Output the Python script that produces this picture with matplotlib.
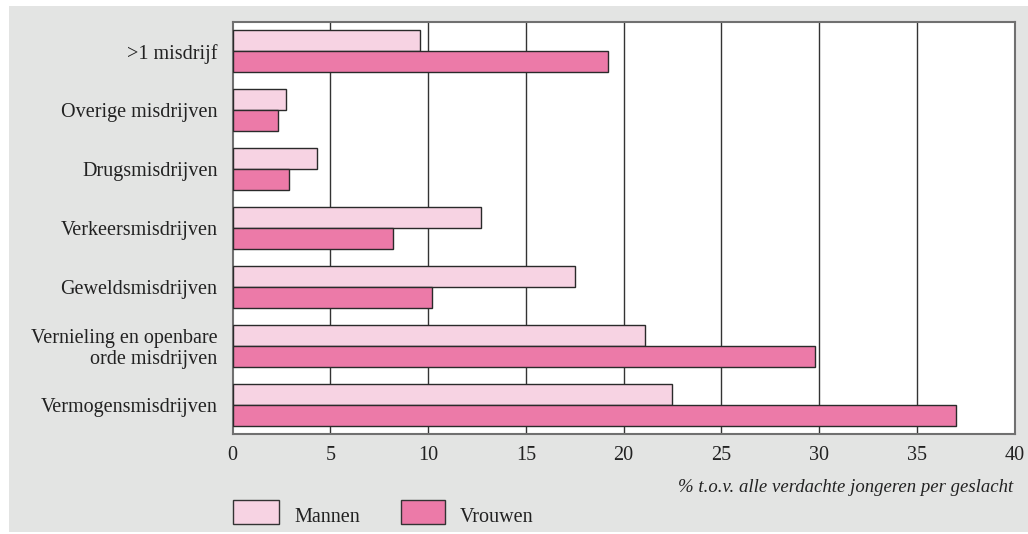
import matplotlib.pyplot as plt
from matplotlib.patches import Rectangle
import numpy as np

categories = [">1 misdrijf", "Overige misdrijven", "Drugsmisdrijven",
              "Verkeersmisdrijven", "Geweldsmisdrijven",
              "Vernieling en openbare\norde misdrijven", "Vermogensmisdrijven"]
mannen = [9.6, 2.7, 4.3, 12.7, 17.5, 21.1, 22.5]
vrouwen = [19.2, 2.3, 2.9, 8.2, 10.2, 29.8, 37.0]
xticks = [0, 5, 10, 15, 20, 25, 30, 35, 40]

plt.rcParams['font.family'] = ['Liberation Serif', 'DejaVu Serif']

fig = plt.figure(figsize=(10.28, 5.34), dpi=100)
fig.patches.append(Rectangle((9 / 1028, 2 / 534), 1 - 9 / 1028, 526 / 534,
                             transform=fig.transFigure, facecolor='#e3e4e3',
                             edgecolor='none', zorder=-10))

ax = fig.add_axes([0.2264, 0.1873, 0.7605, 0.7721])
ax.set_facecolor('white')

y = np.arange(len(categories))
h = 0.357
ax.barh(y - h / 2, mannen, height=h, color='#f7d3e3', edgecolor='#2a2a2a',
        linewidth=1, zorder=3, label='Mannen')
ax.barh(y + h / 2, vrouwen, height=h, color='#ec7aa8', edgecolor='#2a2a2a',
        linewidth=1, zorder=3, label='Vrouwen')

ax.set_xlim(0, 40)
ax.set_ylim(len(categories) - 0.5, -0.5)
ax.set_xticks(xticks)
ax.set_xticklabels([str(t) for t in xticks], fontsize=14.5)
ax.set_yticks(y)
ax.set_yticklabels(categories, fontsize=14.5, linespacing=1.15)
ax.tick_params(axis='both', length=0, colors='#222222')
ax.tick_params(axis='x', pad=9)
ax.tick_params(axis='y', pad=11)
for t in ax.get_yticklabels():
    t.set_horizontalalignment('right')
    t.set_multialignment('right')

for xv in xticks[1:-1]:
    ax.axvline(xv, color='#333333', linewidth=1, zorder=1)
for s in ax.spines.values():
    s.set_color('#707070')
    s.set_linewidth(1.5)

fig.text(1013 / 1028, 1 - 488 / 534, '% t.o.v. alle verdachte jongeren per geslacht',
         ha='right', va='center', fontsize=13.5, style='italic', color='#222222')

# legend drawn by hand in figure pixels
for x0, x1, col, lab, tx in [(233, 279, '#f7d3e3', 'Mannen', 294),
                             (401, 445, '#ec7aa8', 'Vrouwen', 460)]:
    fig.patches.append(Rectangle((x0 / 1028, 1 - 524 / 534), (x1 - x0) / 1028, 24 / 534,
                                 transform=fig.transFigure, facecolor=col,
                                 edgecolor='#333333', linewidth=1, zorder=2))
    fig.text(tx / 1028, 1 - 518 / 534, lab, ha='left', va='center',
             fontsize=14.5, color='#222222')

fig.savefig('out.png', dpi=100)
